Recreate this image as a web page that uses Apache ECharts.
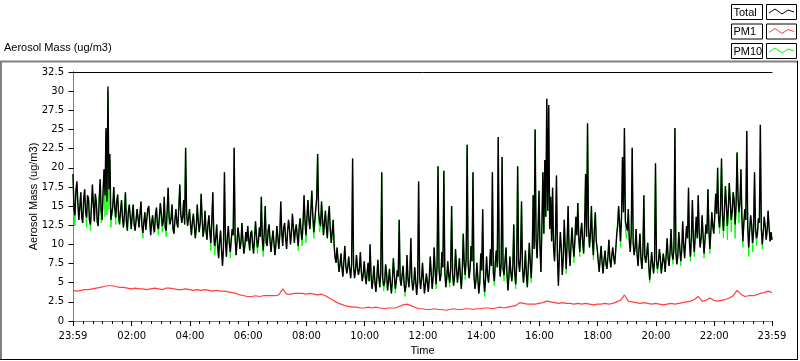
<!DOCTYPE html>
<html><head><meta charset="utf-8">
<script src="https://cdn.jsdelivr.net/npm/echarts@6/dist/echarts.min.js"></script>
<style>html,body{margin:0;padding:0;background:#fff;}#c{width:800px;height:361px;}</style>
</head><body><div id="c"></div>
<script>
// ---- data ----
const seriesNames = ['Total', 'PM1', 'PM10'];
const seriesColors = ['#000000', '#ff4040', '#00ff00'];
const startMinute = -1;          // 23:59 of previous day, in minutes after midnight
const stepTotal = 2;             // minutes between Total / PM10 samples
const stepPM1 = 8;               // minutes between PM1 samples

const total = [
19.2,14.6,13.8,17.0,18.2,15.4,13.2,14.8,16.8,13.6,12.8,15.9,17.2,14.2,13.5,16.4,16.0,13.1,12.6,14.9,17.8,15.2,13.0,16.6,15.5,12.9,12.4,16.0,18.5,14.4,13.2,17.1,19.8,16.4,25.2,15.6,30.6,17.2,21.8,13.2,14.0,15.0,17.5,14.8,13.5,15.6,16.5,13.8,12.6,14.4,15.8,13.4,12.2,14.0,16.8,13.0,11.8,14.2,15.2,13.6,
12.0,13.8,15.2,12.6,11.8,13.2,14.6,13.4,12.2,14.0,15.6,12.4,11.5,12.9,14.2,11.9,12.0,14.6,15.0,13.2,11.2,12.8,13.8,12.2,11.6,13.9,14.8,12.5,12.0,13.6,15.4,14.0,12.4,13.0,16.2,12.2,11.8,14.4,17.4,13.6,12.6,13.4,15.2,12.0,11.4,13.2,14.6,12.8,12.2,14.8,17.8,14.0,12.8,13.6,15.8,12.6,22.6,14.2,12.4,13.4,
14.6,12.6,11.2,13.0,14.0,12.4,10.8,12.2,15.2,13.0,11.6,12.8,16.6,13.4,11.0,12.0,14.4,11.8,10.6,12.6,13.8,11.6,10.2,13.2,16.8,11.4,9.8,10.8,12.6,10.0,8.2,10.4,11.8,9.2,7.2,9.6,19.4,10.6,8.4,11.0,12.4,10.2,9.0,10.6,12.0,11.2,22.6,10.8,8.6,10.4,12.2,11.0,9.4,10.2,12.8,10.6,8.8,9.8,11.6,10.4,
12.4,10.6,9.2,11.4,11.8,10.0,8.8,10.8,13.0,11.2,9.6,10.4,12.2,11.0,16.2,10.8,9.2,11.6,15.0,10.2,9.8,11.8,12.6,10.4,9.0,10.6,11.8,10.2,8.6,10.0,12.4,11.0,9.4,11.2,15.6,11.6,9.8,12.2,12.8,10.8,9.4,11.6,13.2,12.0,10.0,11.4,14.0,12.2,10.2,11.8,12.6,11.0,9.8,12.4,13.4,11.6,10.6,12.8,16.4,13.0,
11.2,13.6,15.8,13.2,12.0,14.4,17.0,13.8,11.6,13.0,14.6,16.0,21.8,14.2,13.0,12.4,15.6,13.4,11.2,12.8,14.4,12.2,10.8,13.6,15.0,12.0,10.2,11.6,13.2,9.8,8.2,7.6,9.6,8.0,6.4,7.4,8.8,7.0,5.8,7.8,9.8,7.2,6.2,7.0,8.4,6.8,5.6,7.4,21.2,7.2,5.6,6.6,8.6,7.0,6.0,6.8,9.0,6.4,5.2,6.2,
7.8,5.8,4.8,6.4,7.6,5.2,10.0,6.0,4.2,5.4,7.2,5.0,3.8,5.6,8.0,5.8,4.4,6.2,19.4,5.6,4.6,5.0,7.4,6.2,4.0,5.2,6.8,4.8,3.6,5.4,8.2,6.0,4.2,5.2,6.6,5.8,13.2,5.4,4.6,6.0,7.2,5.0,3.8,4.6,8.6,5.6,4.4,6.2,10.8,5.4,4.0,4.8,7.0,5.2,3.4,5.0,18.2,5.8,4.2,5.4,
7.6,5.4,3.6,4.8,6.2,5.0,3.8,5.6,8.4,6.2,4.2,5.8,9.6,6.6,4.8,7.2,20.2,6.8,5.2,6.0,9.0,7.0,19.6,6.4,4.4,5.6,7.8,6.0,5.0,6.8,15.0,6.2,4.6,5.8,9.4,7.0,5.0,6.4,8.2,5.8,4.2,6.6,11.4,7.4,6.0,8.2,23.0,7.6,5.6,6.8,9.8,7.8,19.4,6.0,4.2,5.2,7.6,5.6,3.6,5.0,
8.8,6.6,14.6,5.4,3.8,5.6,8.4,6.0,5.0,6.8,9.4,7.2,19.4,6.2,5.2,7.6,9.2,7.0,24.0,8.0,5.8,7.4,21.4,6.8,6.0,7.8,9.6,6.2,4.0,5.8,8.4,6.4,5.2,7.0,12.6,6.2,4.8,7.2,20.2,7.8,6.4,8.4,15.6,7.0,5.0,6.6,9.2,6.0,4.4,7.2,10.2,7.6,5.6,8.8,16.4,9.4,25.0,10.6,8.2,11.8,
17.0,9.8,6.4,12.6,19.4,11.4,21.0,13.6,29.0,14.4,28.2,12.0,16.2,10.4,17.4,9.6,7.8,11.2,19.0,8.4,4.6,8.8,11.6,9.4,6.0,8.2,13.2,9.6,6.8,10.4,15.0,9.2,7.2,10.0,12.2,9.8,8.4,10.6,13.6,11.2,15.4,10.8,9.0,11.6,12.8,10.2,8.8,12.4,19.2,11.0,25.8,12.2,9.6,11.4,15.0,10.6,8.6,11.8,14.2,10.4,
9.4,7.8,6.4,8.2,9.8,7.6,6.2,8.0,9.2,7.4,6.8,8.4,10.6,8.0,7.0,8.6,9.6,8.2,7.4,9.2,11.2,12.4,15.0,12.8,10.4,13.6,21.4,14.2,25.2,13.0,12.4,11.8,14.6,10.6,9.0,11.4,22.6,10.2,8.6,9.6,12.0,8.8,7.2,9.4,11.4,8.2,6.8,9.0,16.4,8.4,7.6,8.8,10.2,7.4,5.4,7.0,9.0,7.6,6.2,7.8,
20.6,8.0,6.8,7.6,9.4,8.2,6.2,7.4,8.8,7.8,6.4,8.6,10.8,8.2,7.2,9.0,12.0,8.8,8.0,9.4,25.2,9.0,7.4,8.6,11.6,9.6,7.8,9.2,13.0,10.0,8.2,10.4,12.4,10.8,17.4,10.2,8.4,11.0,15.8,10.6,9.0,11.4,13.6,10.8,16.4,11.6,9.6,10.8,13.8,11.2,8.8,10.6,12.6,11.4,17.2,12.0,9.4,11.6,14.2,12.4,
11.4,13.6,16.6,14.0,20.0,13.4,12.2,14.8,21.2,13.8,11.8,14.4,17.6,15.2,12.4,14.6,18.0,15.6,13.2,14.2,16.8,15.8,12.6,15.0,22.0,16.2,14.2,15.4,19.8,13.6,10.4,12.8,14.6,13.2,24.8,12.4,9.6,11.8,13.8,12.6,10.2,11.6,19.4,12.2,10.8,11.4,13.4,12.8,25.6,12.0,10.0,11.6,13.6,12.4,10.6,11.8,14.4,12.2,10.4,11.6,10.6
];

const pm10 = [
19.2,14.6,12.4,17.0,18.2,15.4,13.2,14.8,16.8,13.6,12.8,15.9,17.2,14.2,12.2,16.4,16.0,13.1,11.8,14.9,17.8,15.2,13.0,16.6,15.5,12.9,12.4,16.0,18.5,12.8,13.2,15.8,19.8,13.6,24.8,13.8,30.0,14.6,21.0,12.2,14.0,15.0,17.5,14.8,12.6,15.6,16.5,12.8,12.6,14.4,15.8,13.4,12.2,14.0,16.8,13.0,11.8,14.2,15.2,13.6,
12.0,13.8,15.2,12.6,11.8,13.2,14.6,13.4,12.2,14.0,15.6,12.4,10.8,12.9,14.2,11.9,12.0,14.6,15.0,13.2,11.2,12.8,13.8,11.4,11.6,13.9,14.8,12.5,11.2,13.6,15.4,12.8,11.6,13.0,16.2,12.2,11.0,14.4,17.4,12.6,12.6,13.4,15.2,12.0,11.4,13.2,14.6,12.8,12.2,14.8,17.8,14.0,12.8,13.6,15.8,12.6,22.6,14.2,12.4,13.4,
14.6,12.6,11.2,13.0,14.0,12.4,10.8,12.2,15.2,13.0,11.6,12.8,16.6,13.4,11.0,12.0,14.4,11.8,10.6,12.6,13.8,11.6,9.2,12.4,16.8,10.4,8.6,10.0,12.6,9.2,8.2,10.4,11.8,9.2,7.2,9.6,19.4,10.6,8.4,11.0,12.4,10.2,8.2,10.6,12.0,11.2,22.6,10.8,8.6,10.4,12.2,11.0,9.4,10.2,12.8,10.6,8.8,9.8,11.6,10.4,
12.4,10.6,9.2,11.4,11.8,10.0,8.8,10.8,13.0,10.2,8.8,10.4,12.2,11.0,16.2,9.6,8.4,11.6,15.0,10.2,9.8,11.8,12.6,10.4,9.0,10.6,11.8,10.2,8.6,10.0,12.4,11.0,9.4,11.2,15.6,11.6,9.8,12.2,12.8,10.8,9.4,11.6,13.2,12.0,10.0,11.4,14.0,12.2,10.2,11.8,12.6,11.0,9.2,11.6,13.4,11.0,9.8,12.8,16.4,13.0,
10.2,13.0,15.8,13.2,12.0,14.4,17.0,13.8,10.8,12.2,14.6,16.0,21.8,13.4,11.6,12.4,15.6,13.4,11.2,12.8,14.4,12.2,10.8,13.6,15.0,11.4,10.2,11.6,13.2,9.8,8.2,7.6,9.6,8.0,6.4,7.4,8.8,7.0,5.8,7.8,9.8,7.2,6.2,7.0,8.4,6.8,5.6,7.4,21.2,7.2,5.6,6.6,8.6,7.0,6.0,6.8,9.0,6.4,5.2,6.2,
7.8,5.8,4.8,6.4,7.6,5.2,10.0,6.0,4.2,5.4,7.2,5.0,3.8,5.6,8.0,5.8,4.4,6.2,19.4,5.6,3.9,5.0,7.4,6.2,4.0,5.2,6.8,4.8,3.6,5.4,8.2,6.0,3.6,5.2,6.6,5.8,13.2,5.4,4.6,6.0,7.2,5.0,3.2,4.6,8.6,5.6,4.4,6.2,10.8,5.4,4.0,4.8,7.0,5.2,3.4,5.0,18.2,5.8,4.2,5.4,
7.6,5.4,3.6,4.8,6.2,5.0,3.8,5.6,8.4,6.2,4.2,5.8,9.6,6.6,4.2,7.2,20.2,6.8,5.2,6.0,9.0,7.0,19.6,6.4,4.4,5.6,7.8,6.0,4.4,6.8,15.0,6.2,4.6,5.8,9.4,7.0,5.0,6.4,8.2,5.8,4.2,6.6,11.4,7.4,5.4,8.2,23.0,7.6,5.6,6.8,9.8,7.8,19.4,6.0,4.2,5.2,7.6,5.6,3.6,5.0,
8.8,6.6,14.6,5.4,3.2,5.6,8.4,6.0,5.0,6.8,9.4,7.2,19.4,6.2,4.6,7.6,9.2,7.0,24.0,8.0,5.8,7.4,21.4,6.8,5.2,7.8,9.6,6.2,4.0,5.8,8.4,6.4,5.2,7.0,12.6,6.2,4.2,7.2,20.2,7.8,6.4,8.4,15.6,7.0,5.0,6.6,9.2,6.0,4.4,7.2,10.2,7.6,5.0,8.8,16.4,9.4,25.0,10.6,8.2,11.8,
17.0,9.8,6.4,12.6,19.4,11.4,21.0,13.6,29.0,14.4,28.2,12.0,16.2,10.4,17.4,9.6,7.8,11.2,19.0,8.4,4.6,8.8,11.6,9.4,6.0,8.2,13.2,9.6,6.2,10.4,15.0,9.2,7.2,10.0,12.2,9.8,7.6,10.6,13.6,11.2,15.4,10.8,8.4,11.6,12.8,10.2,8.8,12.4,19.2,11.0,25.8,12.2,9.6,11.4,15.0,10.6,8.0,11.8,14.2,10.4,
9.4,7.8,6.4,8.2,9.8,7.6,6.2,8.0,9.2,7.4,6.8,8.4,10.6,8.0,7.0,8.6,9.6,8.2,7.4,9.2,11.2,11.4,15.0,11.6,9.6,13.6,21.4,14.2,25.2,12.0,10.8,11.8,14.6,10.6,9.0,11.4,22.6,10.2,8.6,9.6,12.0,8.8,7.2,9.4,11.4,8.2,6.8,9.0,16.4,8.4,7.6,8.8,10.2,7.4,5.0,7.0,9.0,7.6,6.2,7.8,
20.6,8.0,6.2,7.6,9.4,8.2,6.2,7.4,8.8,7.8,6.4,8.6,10.8,8.2,7.2,9.0,12.0,8.8,7.4,9.4,25.2,9.0,7.4,8.6,11.6,9.6,7.2,9.2,13.0,10.0,8.2,10.4,12.4,10.8,17.4,10.2,7.8,11.0,15.8,10.6,8.4,11.4,13.6,10.8,16.4,11.6,9.6,10.8,13.8,11.2,8.2,10.6,12.6,11.4,17.2,12.0,8.8,11.6,14.2,12.4,
11.4,13.6,16.6,14.0,20.0,13.4,11.4,14.8,21.2,13.8,10.8,14.4,17.6,15.2,10.6,14.6,18.0,15.6,11.6,14.2,16.8,15.8,10.8,15.0,22.0,16.2,12.8,15.4,19.8,13.6,9.6,12.8,14.6,13.2,24.8,12.4,8.4,11.8,13.8,12.6,9.0,11.6,19.4,12.2,9.8,11.4,13.4,12.8,25.6,12.0,9.4,11.6,13.6,12.4,10.6,11.8,14.4,12.2,10.4,11.6,10.6
];

const pm1 = [
4.0,3.9,4.0,4.1,4.1,4.2,4.3,4.4,4.5,4.6,4.6,4.5,4.4,4.4,4.3,4.2,4.3,4.2,4.2,4.1,
4.2,4.3,4.2,4.1,4.3,4.3,4.2,4.1,4.1,4.2,4.1,4.0,4.1,4.0,4.1,4.0,3.9,4.0,3.9,3.9,
3.8,3.7,3.6,3.4,3.3,3.2,3.2,3.3,3.2,3.3,3.3,3.3,3.3,3.4,4.2,3.5,3.5,3.6,3.6,3.6,
3.5,3.6,3.5,3.4,3.5,3.3,3.0,2.7,2.4,2.2,2.0,1.9,1.8,1.8,1.7,1.7,1.8,1.7,1.8,1.7,
1.6,1.7,1.7,1.7,1.9,2.1,2.2,2.0,1.8,1.6,1.6,1.5,1.5,1.6,1.5,1.5,1.4,1.5,1.6,1.5,
1.5,1.6,1.6,1.5,1.6,1.6,1.7,1.7,1.6,1.7,1.8,1.7,1.8,1.9,2.0,2.4,2.3,2.2,2.2,2.2,
2.3,2.4,2.6,2.5,2.4,2.3,2.4,2.3,2.3,2.2,2.3,2.2,2.3,2.2,2.1,2.2,2.2,2.3,2.2,2.3,
2.5,2.7,3.4,2.6,2.5,2.4,2.3,2.4,2.3,2.2,2.3,2.2,2.1,2.2,2.3,2.2,2.3,2.4,2.5,2.6,
2.8,3.2,2.6,2.7,3.0,2.7,2.6,2.7,2.8,3.0,3.3,4.0,3.5,3.2,3.3,3.3,3.4,3.6,3.7,3.9,
3.7
];

const xTickValues = [-1, 120, 240, 360, 480, 600, 720, 840, 960, 1080, 1200, 1320, 1439];
const xTickLabels = ['23:59','02:00','04:00','06:00','08:00','10:00','12:00','14:00','16:00','18:00','20:00','22:00','23:59'];
const xMinorStep = 20;
const yMin = 0, yMax = 32.5, yStep = 2.5;
const titleText = 'Aerosol Mass (ug/m3)';
const yName = 'Aerosol Mass (ug/m3)';
const xName = 'Time';

// ---- build ----
const toPairs = (arr, step) => arr.map((v, i) => [startMinute + i * step, v]);
const minorTicks = [];
for (let m = xMinorStep; m < 1439; m += xMinorStep) if (m % 120 !== 0) minorTicks.push(m);

const FONT = 'DejaVu Sans';
const LFONT = 'Liberation Sans';
const chart = echarts.init(document.getElementById('c'), null, {renderer: 'canvas'});

// legend drawn as LabVIEW-style boxes
const legendGraphics = [];
const rowTops = [4, 23.5, 43];
seriesNames.forEach((name, k) => {
  const t = rowTops[k];
  legendGraphics.push({type: 'rect', shape: {x: 731.5, y: t + 0.5, width: 31, height: 15},
    style: {fill: '#fff', stroke: '#000', lineWidth: 1}});
  legendGraphics.push({type: 'text', x: 733.5, y: t + 8.5,
    style: {text: name, font: '11px "' + LFONT + '"', fill: '#000', verticalAlign: 'middle'}});
  legendGraphics.push({type: 'rect', shape: {x: 766.5, y: t + 0.5, width: 30, height: 15},
    style: {fill: '#fff', stroke: '#000', lineWidth: 1}});
  legendGraphics.push({type: 'polyline', shape: {points: [[769, t + 9], [775, t + 5], [782, t + 10], [788, t + 6], [794, t + 8]]},
    style: {stroke: seriesColors[k], lineWidth: 1, fill: null}});
});

const frame = [
  {type: 'line', shape: {x1: 0, y1: 61.5, x2: 798, y2: 61.5}, style: {stroke: '#808080', lineWidth: 2}},
  {type: 'line', shape: {x1: 1, y1: 61, x2: 1, y2: 360}, style: {stroke: '#808080', lineWidth: 2}},
  {type: 'line', shape: {x1: 797.5, y1: 61, x2: 797.5, y2: 360}, style: {stroke: '#000', lineWidth: 1}},
  {type: 'line', shape: {x1: 0, y1: 359.5, x2: 798, y2: 359.5}, style: {stroke: '#000', lineWidth: 1}}
];

const fmtTime = v => { const i = xTickValues.indexOf(v); return i >= 0 ? xTickLabels[i] : ''; };

const option = {
  animation: false,
  backgroundColor: '#ffffff',
  textStyle: {fontFamily: FONT},
  title: {text: titleText, left: 4, top: 42, padding: 0, textStyle: {fontSize: 11, fontWeight: 'normal', color: '#000', fontFamily: LFONT}},
  grid: {left: 73, right: 28, top: 72, bottom: 40, containLabel: false},
  xAxis: [
    {type: 'value', min: -1, max: 1439, position: 'bottom',
     axisLine: {show: true, lineStyle: {color: '#808080', width: 1}},
     axisTick: {show: true, customValues: xTickValues, length: 5, lineStyle: {color: '#000'}},
     axisLabel: {show: true, customValues: xTickValues, formatter: fmtTime, margin: 10, fontSize: 10, color: '#000', fontFamily: FONT},
     splitLine: {show: false},
     name: xName, nameLocation: 'middle', nameGap: 24, nameMoveOverlap: false,
     nameTextStyle: {fontSize: 11, color: '#000', fontFamily: LFONT}},
    {type: 'value', min: -1, max: 1439, position: 'bottom',
     axisLine: {show: false},
     axisTick: {show: true, customValues: minorTicks, length: 3, lineStyle: {color: '#000'}},
     axisLabel: {show: false}, splitLine: {show: false}},
    {type: 'value', min: -1, max: 1439, position: 'top',
     axisLine: {show: true, lineStyle: {color: '#000', width: 1}},
     axisTick: {show: false}, axisLabel: {show: false}, splitLine: {show: false}}
  ],
  yAxis: [
    {type: 'value', min: yMin, max: yMax, interval: yStep, position: 'left',
     axisLine: {show: true, lineStyle: {color: '#000', width: 1}},
     axisTick: {show: true, length: 5, lineStyle: {color: '#000'}},
     axisLabel: {margin: 9, fontSize: 10, color: '#000', fontFamily: FONT},
     splitLine: {show: false},
     name: yName, nameLocation: 'middle', nameRotate: 90, nameGap: 34, nameMoveOverlap: false,
     nameTextStyle: {fontSize: 11, color: '#000', fontFamily: LFONT}},
    {type: 'value', min: yMin, max: yMax, position: 'right',
     axisLine: {show: true, lineStyle: {color: '#808080', width: 1}},
     axisTick: {show: false}, axisLabel: {show: false}, splitLine: {show: false}}
  ],
  series: [
    {name: seriesNames[2], type: 'line', data: toPairs(pm10, stepTotal), showSymbol: false, symbol: 'none',
     lineStyle: {color: seriesColors[2], width: 1}, z: 2},
    {name: seriesNames[0], type: 'line', data: toPairs(total, stepTotal), showSymbol: false, symbol: 'none',
     lineStyle: {color: seriesColors[0], width: 1.4}, z: 3},
    {name: seriesNames[1], type: 'line', data: toPairs(pm1, stepPM1), showSymbol: false, symbol: 'none',
     lineStyle: {color: seriesColors[1], width: 1.2}, z: 4}
  ],
  graphic: frame.concat(legendGraphics)
};
chart.setOption(option);
</script>
</body></html>
